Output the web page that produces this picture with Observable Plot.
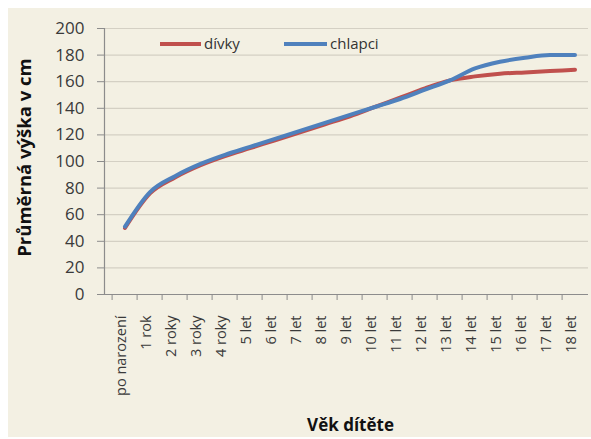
<!DOCTYPE html>
<html><head><meta charset="utf-8">
<script src="https://cdn.jsdelivr.net/npm/d3@7"></script>
<script src="https://cdn.jsdelivr.net/npm/@observablehq/plot@0.6"></script>
<style>
html,body{margin:0;padding:0;background:#fff;}
#wrap{position:relative;width:591px;height:439px;background:#fff;overflow:hidden;}
#chart{position:absolute;left:8px;top:8px;}
.leg{position:absolute;font-family:"Open Sans",sans-serif;font-size:15px;color:#333;display:flex;align-items:center;line-height:1;}
.leg span.sw{display:inline-block;height:4px;margin-right:3px;}
</style></head><body>
<div id="wrap"><div id="chart"></div>
<div class="leg" style="left:160px;top:36px;"><span class="sw" style="width:41px;background:#c0504d"></span>dívky</div>
<div class="leg" style="left:284px;top:36px;"><span class="sw" style="width:43px;background:#4f81bd"></span>chlapci</div>
</div>
<script>
const categories = ["po narození","1 rok","2 roky","3 roky","4 roky","5 let","6 let","7 let","8 let","9 let","10 let","11 let","12 let","13 let","14 let","15 let","16 let","17 let","18 let"];
const girls = [50, 76, 88, 97, 104, 110, 116, 122, 128, 134, 141, 148, 155, 161, 164, 166, 167, 168, 169];
const boys  = [51, 77, 89, 98, 105, 111, 117, 123, 129, 135, 141, 147, 154, 161, 170, 175, 178, 180, 180];
const seriesNames = ["dívky", "chlapci"];
const seriesColors = ["#c0504d", "#4f81bd"];
const yTicks = [0, 20, 40, 60, 80, 100, 120, 140, 160, 180, 200];

const data = [];
categories.forEach((c, i) => data.push({cat: c, v: girls[i], s: seriesNames[0]}));
categories.forEach((c, i) => data.push({cat: c, v: boys[i], s: seriesNames[1]}));

const W = 583, H = 429, mL = 96, mT = 20, mB = 143, mR = 3;
const xRange = [96, 586];
const bw = (xRange[1] - xRange[0]) / categories.length;

const svg = Plot.plot({
  width: W, height: H,
  marginLeft: mL, marginTop: mT, marginBottom: mB, marginRight: mR,
  style: {background: "#f3f0e3", fontFamily: "Open Sans, sans-serif", color: "#3a3a3a", overflow: "visible"},
  x: {domain: categories, range: xRange, padding: 0, type: "band"},
  y: {domain: [0, 200]},
  color: {domain: seriesNames, range: seriesColors},
  marks: [
    Plot.gridY(yTicks, {stroke: "#d4d0c4", strokeOpacity: 1, strokeWidth: 1.2}),
    Plot.ruleY([0], {stroke: "#8c8c8c", strokeWidth: 1.2}),
    Plot.frame({anchor: "left", stroke: "#8c8c8c", strokeWidth: 1.2}),
    Plot.axisY(yTicks, {tickSize: 7, tickPadding: 13, fontSize: 17, label: null, stroke: "#8c8c8c", fill: "#3a3a3a"}),
    Plot.axisX({tickSize: 6, text: null, dx: -bw / 2, label: null, stroke: "#8c8c8c"}),
    Plot.axisX({tickSize: 0, tickPadding: 21, tickRotate: -90, fontSize: 14.5, dx: -4, label: null, fill: "#3a3a3a"}),
    Plot.line(data, {x: "cat", y: "v", z: "s", stroke: "s", strokeWidth: 4, curve: "monotone-x"}),
    Plot.text(["Věk dítěte"], {frameAnchor: "bottom", dx: 4, dy: 136, fontSize: 17, fontWeight: "bold", fill: "#111", lineAnchor: "bottom"}),
    Plot.text(["Průměrná výška v cm"], {frameAnchor: "left", textAnchor: "middle", rotate: -90, dx: -79, dy: -4, fontSize: 18.5, fontWeight: "bold", fill: "#111"})
  ]
});
document.getElementById("chart").appendChild(svg);
</script>
</body></html>
